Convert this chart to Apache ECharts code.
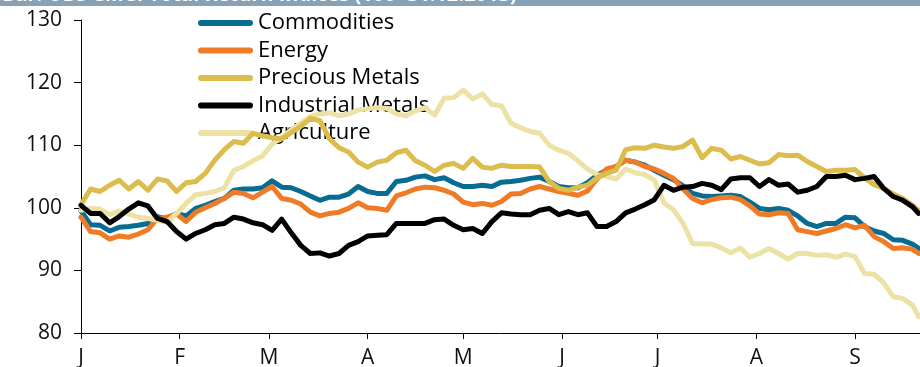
<!DOCTYPE html>
<html>
<head>
<meta charset="utf-8">
<script src="https://cdn.jsdelivr.net/npm/echarts@6/dist/echarts.min.js"></script>
<style>
  html, body { margin: 0; padding: 0; background: #ffffff; }
  #chart { width: 920px; height: 367px; }
</style>
</head>
<body>
<div id="chart"></div>
<script>
// Day of year 2014 (0 = 1 Jan) for each sample
const days = [0,3,6,9,12,15,18,21,24,27,30,33,36,39,42,45,48,51,54,57,60,63,66,69,72,75,78,81,84,87,
  90,93,96,99,102,105,108,111,114,117,120,123,126,129,132,135,138,141,144,147,150,153,156,159,162,165,168,171,174,177,
  180,183,186,189,192,195,198,201,204,207,210,213,216,219,222,225,228,231,234,237,240,243,246,249,252,255,258,261,263];

// UBS CMCI total return indices, 100 = 31.12.2013
const commodities = [99.5,97.3,97.2,96.3,96.9,97.0,97.2,97.5,98.6,98.2,99.1,98.7,99.9,100.4,101.0,101.5,102.8,103.0,103.0,103.2,104.3,103.3,103.2,102.6,101.9,101.2,101.7,101.7,102.2,103.4,
  102.6,102.3,102.3,104.2,104.4,104.9,105.1,104.5,104.8,104.0,103.4,103.4,103.6,103.4,104.1,104.2,104.4,104.7,104.9,104.2,103.4,103.2,103.2,104.0,105.2,106.0,106.6,107.6,107.3,106.8,
  106.0,105.2,104.5,103.5,102.3,101.9,101.8,101.9,102.0,101.8,100.9,99.9,99.7,99.9,99.6,98.7,97.5,97.0,97.5,97.5,98.5,98.4,97.0,96.3,95.9,94.9,94.8,94.2,93.5];

const energy = [98.5,96.2,96.0,95.0,95.5,95.3,95.8,96.5,98.3,98.5,99.0,97.8,99.3,100.0,100.7,101.5,102.5,102.3,101.6,102.5,103.4,101.5,101.2,100.6,99.3,98.7,99.1,99.3,99.9,100.8,
  100.0,99.9,99.6,101.9,102.4,103.0,103.3,103.2,102.8,102.2,100.9,100.5,100.7,100.4,101.0,102.2,102.3,103.0,103.4,103.0,102.6,102.3,102.0,102.7,104.6,106.2,106.6,107.6,107.3,106.6,
  106.2,105.5,104.7,103.0,101.5,100.8,101.3,101.6,101.7,101.3,100.3,99.0,98.9,99.2,99.1,96.5,96.2,95.9,96.3,96.7,97.3,96.8,97.2,95.4,94.6,93.5,93.6,93.4,92.7];

const preciousMetals = [100.5,103.0,102.6,103.6,104.4,103.0,104.2,102.8,104.6,104.3,102.6,104.0,104.2,105.5,107.6,109.3,110.6,110.3,111.9,111.5,111.2,111.0,112.0,113.0,114.3,113.9,111.0,109.6,108.9,107.3,
  106.5,107.3,107.6,108.8,109.2,107.5,106.8,105.8,106.8,107.1,106.3,107.9,106.5,106.3,106.8,106.6,106.6,106.6,106.5,104.2,103.1,102.8,103.3,103.6,104.8,105.5,106.0,109.3,109.6,109.5,
  110.0,109.7,109.5,109.8,110.8,108.0,109.5,109.2,107.8,108.2,107.6,107.0,107.2,108.5,108.3,108.4,107.4,106.6,105.8,106.0,106.0,106.1,104.8,103.7,103.1,102.2,101.5,100.4,99.6];

const industrialMetals = [100.4,99.1,99.1,97.6,98.6,99.8,100.8,100.3,98.3,97.8,96.2,95.0,95.9,96.5,97.3,97.5,98.5,98.2,97.6,97.3,96.4,98.2,96.0,94.0,92.7,92.8,92.3,92.7,94.0,94.6,
  95.5,95.6,95.7,97.5,97.5,97.5,97.5,98.1,98.2,97.2,96.5,96.7,95.9,97.8,99.2,99.0,98.9,98.9,99.6,99.9,98.9,99.4,98.9,99.2,97.0,97.0,97.8,99.2,99.8,100.5,
  101.3,103.6,102.8,103.3,103.4,103.9,103.6,102.9,104.6,104.8,104.8,103.4,104.5,103.6,103.8,102.5,102.8,103.4,105.0,105.0,105.2,104.5,104.7,105.0,103.1,101.8,101.2,100.2,99.1];

const agriculture = [99.6,99.9,99.8,98.9,99.5,99.0,98.5,98.3,98.0,97.7,99.1,100.7,102.1,102.3,102.6,103.2,106.0,106.6,107.5,108.3,110.2,111.2,112.5,113.5,114.6,115.0,115.2,114.7,115.0,115.6,
  115.8,116.0,115.9,115.0,114.7,115.5,116.0,114.8,117.5,117.6,118.8,117.4,118.2,116.5,116.3,113.5,112.8,112.2,111.9,110.0,109.2,108.7,107.5,106.2,105.3,105.0,104.6,106.2,105.6,105.3,
  104.4,100.8,99.7,97.5,94.3,94.2,94.2,93.6,92.8,93.6,92.1,92.7,93.5,92.7,91.8,92.7,92.7,92.4,92.5,92.1,92.6,92.2,89.5,89.4,88.0,85.8,85.5,84.5,82.6];

// Month starts (day of year) and their axis letters
const monthStarts = [0, 31, 59, 90, 120, 151, 181, 212, 243];
const monthLabels = ['J', 'F', 'M', 'A', 'M', 'J', 'J', 'A', 'S'];

const titleText = 'Bar: UBS CMCI Total Return Indices (100=31.12.2013)';

const FONT = '"Open Sans", "Noto Sans", sans-serif';

const seriesDefs = [
  { name: 'Commodities',       values: commodities,      color: '#086b92', z: 2 },
  { name: 'Energy',            values: energy,           color: '#f07b27', z: 3 },
  { name: 'Precious Metals',   values: preciousMetals,   color: '#dcbc4c', z: 5 },
  { name: 'Industrial Metals', values: industrialMetals, color: '#000000', z: 6 },
  { name: 'Agriculture',       values: agriculture,      color: '#ece2a6', z: 4 }
];

const chart = echarts.init(document.getElementById('chart'), null, { renderer: 'canvas' });

chart.setOption({
  animation: false,
  backgroundColor: '#ffffff',
  textStyle: { fontFamily: FONT },
  graphic: [
    {
      type: 'rect',
      left: 0, top: 0,
      shape: { width: 920, height: 6 },
      style: { fill: '#87a1b7' },
      z: 100
    },
    {
      type: 'text',
      x: 2, y: 5,
      style: {
        text: titleText,
        fill: '#ffffff',
        font: 'bold 20px ' + FONT,
        textVerticalAlign: 'bottom'
      },
      z: 101
    }
  ],
  grid: { left: 81, right: 0, top: 20, bottom: 34, containLabel: false, outerBoundsMode: 'none' },
  legend: {
    orient: 'vertical',
    left: 198,
    top: 12,
    padding: 0,
    itemWidth: 55,
    itemHeight: 6,
    itemGap: 5.5,
    icon: 'path://M3,0H52A3,3,0,0,1,52,6H3A3,3,0,0,1,3,0Z',
    textStyle: { fontFamily: FONT, fontSize: 22, color: '#000000', lineHeight: 22 },
    data: seriesDefs.map(s => s.name)
  },
  xAxis: {
    type: 'value',
    min: 0,
    max: 263.4,
    axisLine: { show: true, lineStyle: { color: '#000000', width: 1 } },
    axisTick: { show: true, length: 6, customValues: monthStarts, lineStyle: { color: '#000000' } },
    axisLabel: {
      customValues: monthStarts,
      formatter: v => monthLabels[monthStarts.indexOf(v)] || '',
      fontFamily: FONT, fontSize: 21, color: '#111111', margin: 15
    },
    splitLine: { show: false }
  },
  yAxis: {
    type: 'value',
    min: 80,
    max: 130,
    interval: 10,
    axisLine: { show: true, lineStyle: { color: '#000000', width: 1 } },
    axisTick: { show: true, length: 7, lineStyle: { color: '#000000' } },
    axisLabel: { fontFamily: FONT, fontSize: 21, color: '#111111', margin: 19 },
    splitLine: { show: false }
  },
  series: seriesDefs.map(s => ({
    name: s.name,
    type: 'line',
    z: s.z,
    showSymbol: false,
    symbol: 'none',
    color: s.color,
    lineStyle: { color: s.color, width: 5, join: 'round', cap: 'round' },
    data: days.map((d, i) => [d, s.values[i]])
  }))
});
</script>
</body>
</html>
